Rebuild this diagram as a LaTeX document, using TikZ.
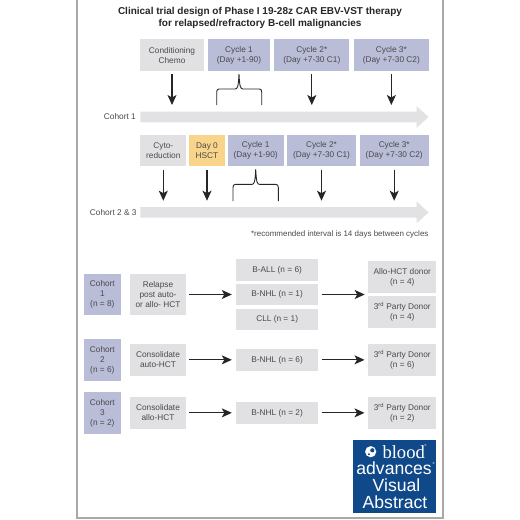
\documentclass[tikz,border=0pt]{standalone}
\usepackage{fontspec}
\setmainfont{Liberation Sans}
\newfontfamily\logoserif{Liberation Serif}
\usetikzlibrary{arrows.meta}
\definecolor{txt}{HTML}{4A4A4A}
\definecolor{boxgray}{HTML}{E1E1E4}
\definecolor{boxblue}{HTML}{B9BDD8}
\definecolor{boxgold}{HTML}{F8D58A}
\definecolor{bandgray}{HTML}{E2E2E5}
\definecolor{framegray}{HTML}{A9A9A9}
\definecolor{logoblue}{HTML}{10498A}
\tikzset{
 bx/.style={draw=none,inner sep=0pt,align=center,text=txt,font=\fontsize{8.3}{10}\selectfont},
 graybox/.style={bx,fill=boxgray},
 bluebox/.style={bx,fill=boxblue},
 goldbox/.style={bx,fill=boxgold},
 vert/.style={line width=1.2pt,black!85,-{Stealth[length=10pt,width=9pt,inset=2.5pt]},shorten <=3pt},
 horz/.style={line width=1.1pt,black!85,-{Stealth[length=10pt,width=9pt,inset=2.5pt]}},
 brace/.style={line width=0.9pt,black!85},
 lab/.style={inner sep=0pt,anchor=east,text=txt,font=\fontsize{8.3}{10}\selectfont},
 logotxt/.style={inner sep=0pt,text=white,anchor=base,font=\fontsize{17.6}{18}\selectfont},
 logomark/.style={inner sep=0pt,text=white,font=\fontsize{3}{3}\selectfont}
}
% name, x1, y1, x2, y2, style, text
\newcommand{\bxn}[7]{%
 \pgfmathsetmacro{\bxw}{#4-#2}\pgfmathsetmacro{\bxh}{#5-#3}%
 \pgfmathsetmacro{\bxx}{(#4+#2)/2}\pgfmathsetmacro{\bxy}{(#5+#3)/2}%
 \node[#6,minimum width=\bxw pt,minimum height=\bxh pt] (#1) at (\bxx,\bxy) {#7};}
\newcommand{\bandarrow}[2]{%
 \fill[bandgray] (140.3,#1) -- (416.7,#1) -- (416.7,#1-5.5) -- (428.5,{(#1+#2)/2}) -- (416.7,#2+5.5) -- (416.7,#2) -- (140.3,#2) -- cycle;}
\begin{document}
\begin{tikzpicture}[x=1pt,y=-1pt]
\useasboundingbox (0,0) rectangle (520,520);
\fill[white] (0,0) rectangle (520,520);
\draw[framegray,line width=2pt] (77,-2) -- (77,518) -- (442.7,518) -- (442.7,-2);

\node[inner sep=0pt,align=center,text=black!85,font=\fontsize{10}{12}\selectfont\bfseries] (title) at (260,18) {Clinical trial design of Phase I 19-28z CAR EBV-VST therapy\\for relapsed/refractory B-cell malignancies};

% Cohort 1 timeline
\bxn{a1}{140.3}{39.3}{203.7}{71}{graybox}{Conditioning\\Chemo}
\bxn{a2}{208}{39.3}{270}{71}{bluebox}{Cycle 1\\(Day +1-90)}
\bxn{a3}{274.3}{39.3}{349.3}{71}{bluebox}{Cycle 2*\\(Day +7-30 C1)}
\bxn{a4}{353.7}{39.3}{429}{71}{bluebox}{Cycle 3*\\(Day +7-30 C2)}
\bandarrow{111.7}{122.3}
\node[lab] (c1lab) at (136,117) {Cohort 1};
\coordinate (a1e) at (a1.south |- 0,105);
\coordinate (a3e) at (a3.south |- 0,105);
\coordinate (a4e) at (a4.south |- 0,105);
\draw[vert] (a1.south) -- (a1e);
\draw[vert] (a3.south) -- (a3e);
\draw[vert] (a4.south) -- (a4e);
\draw[brace] (216.7,105) -- (216.7,92) .. controls (216.7,90) and (217.5,89) .. (219,89) -- (235,89) .. controls (237.5,89) and (238.4,87) .. (239,74) .. controls (239.6,87) and (240.5,89) .. (243,89) -- (259.4,89) .. controls (260.9,89) and (261.7,90) .. (261.7,92) -- (261.7,105);

% Cohort 2 & 3 timeline
\bxn{b1}{140.3}{135}{186.3}{166.3}{graybox}{Cyto-\\reduction}
\bxn{b2}{189.3}{135}{224.7}{166.3}{goldbox}{Day 0\\HSCT}
\bxn{b3}{227.7}{135}{283.7}{166.3}{bluebox}{Cycle 1\\(Day +1-90)}
\bxn{b4}{287}{135}{356}{166.3}{bluebox}{Cycle 2*\\(Day +7-30 C1)}
\bxn{b5}{359.7}{135}{428.7}{166.3}{bluebox}{Cycle 3*\\(Day +7-30 C2)}
\bandarrow{207}{217.7}
\node[lab] (c2lab) at (136.7,212.7) {Cohort 2 \& 3};
\coordinate (b1e) at (b1.south |- 0,200.7);
\coordinate (b2e) at (b2.south |- 0,200.7);
\coordinate (b4e) at (b4.south |- 0,200.7);
\coordinate (b5e) at (b5.south |- 0,200.7);
\draw[vert] (b1.south) -- (b1e);
\draw[vert] (b2.south) -- (b2e);
\draw[vert] (b4.south) -- (b4e);
\draw[vert] (b5.south) -- (b5e);
\draw[brace] (233,201) -- (233,187.5) .. controls (233,185.5) and (233.8,184.4) .. (235.3,184.4) -- (251.7,184.4) .. controls (254.2,184.4) and (255.1,182.4) .. (255.7,169.3) .. controls (256.3,182.4) and (257.2,184.4) .. (259.7,184.4) -- (276,184.4) .. controls (277.5,184.4) and (278.3,185.5) .. (278.3,187.5) -- (278.3,201);

\node[inner sep=0pt,anchor=east,text=txt,font=\fontsize{8}{10}\selectfont] (note) at (428.7,234) {*recommended interval is 14 days between cycles};

% Cohort table
\bxn{k1}{83.7}{273.7}{121}{315.3}{bluebox}{Cohort\\1\\(n = 8)}
\bxn{k2}{83.7}{339}{121}{380.7}{bluebox}{Cohort\\2\\(n = 6)}
\bxn{k3}{83.7}{392}{121}{433.7}{bluebox}{Cohort\\3\\(n = 2)}
\bxn{p1}{130.3}{273.7}{185.7}{315.3}{graybox}{Relapse\\post auto-\\or allo- HCT}
\bxn{p2}{130.3}{344}{185.7}{375.7}{graybox}{Consolidate\\auto-HCT}
\bxn{p3}{130.3}{397}{185.7}{428.7}{graybox}{Consolidate\\allo-HCT}
\bxn{m1}{236}{259}{318.3}{280.7}{graybox}{B-ALL (n = 6)}
\bxn{m2}{236}{283.7}{318.3}{305.3}{graybox}{B-NHL (n = 1)}
\bxn{m3}{236}{308.7}{318.3}{330.3}{graybox}{CLL (n = 1)}
\bxn{m4}{236}{349}{318.3}{370.7}{graybox}{B-NHL (n = 6)}
\bxn{m5}{236}{402}{318.3}{423.7}{graybox}{B-NHL (n = 2)}
\bxn{r1}{368.3}{261.3}{436.3}{292.7}{graybox}{Allo-HCT donor\\(n = 4)}
\bxn{r2}{368.3}{296}{436.3}{328}{graybox}{3\textsuperscript{rd} Party Donor\\(n = 4)}
\bxn{r3}{368.3}{344}{436.3}{375.7}{graybox}{3\textsuperscript{rd} Party Donor\\(n = 6)}
\bxn{r4}{368.3}{397}{436.3}{428.7}{graybox}{3\textsuperscript{rd} Party Donor\\(n = 2)}
\coordinate (rj) at (368.3,294.5);
\draw[horz,shorten <=3.3pt,shorten >=4pt] (p1.east) -- (m2.west);
\draw[horz,shorten <=3.3pt,shorten >=4pt] (p2.east) -- (m4.west);
\draw[horz,shorten <=3.3pt,shorten >=4pt] (p3.east) -- (m5.west);
\draw[horz,shorten <=3pt,shorten >=3.6pt] (m2.east) -- (rj);
\draw[horz,shorten <=3pt,shorten >=3.6pt] (m4.east) -- (r3.west);
\draw[horz,shorten <=3pt,shorten >=3.6pt] (m5.east) -- (r4.west);

% Logo
\fill[logoblue] (353,439.7) rectangle (436.3,513.3);
\fill[white] (370.7,451.7) circle (5.6);
\fill[logoblue] (372.3,450.3) circle (2.1);
\fill[logoblue] (369,454.3) circle (1.1);
\node[logotxt,font=\logoserif\fontsize{18.6}{18}\selectfont,anchor=base west] (l1) at (382.3,458) {blood};
\node[logotxt,anchor=base west] (l2) at (356.2,474.5) {advances};
\node[logotxt] (l3) at (396.5,491) {Visual};
\node[logotxt] (l4) at (395,508) {Abstract};
\node[logomark] (l5) at (425.5,445.5) {®};
\node[logomark] (l6) at (433.8,463.5) {®};
\end{tikzpicture}
\end{document}
